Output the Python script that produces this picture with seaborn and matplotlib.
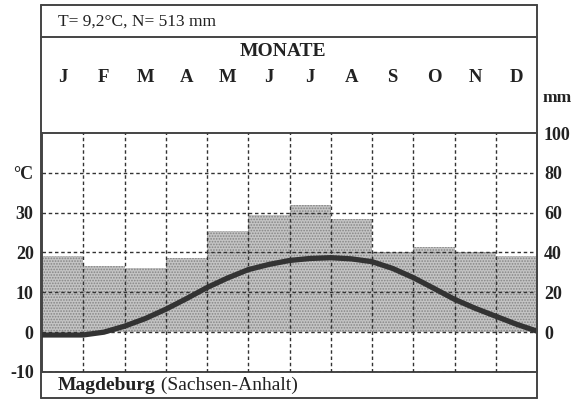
"""Climate diagram Magdeburg (Sachsen-Anhalt)."""

import matplotlib

matplotlib.use("Agg")
import matplotlib.pyplot as plt
from matplotlib.lines import Line2D
from matplotlib.transforms import blended_transform_factory
import numpy as np
import pandas as pd
import seaborn as sns

months = ["J", "F", "M", "A", "M", "J", "J", "A", "S", "O", "N", "D"]
precip_mm = [38, 33, 32, 37, 51, 59, 64, 57, 40, 43, 40, 38]
# temperature curve, read every half month from start of Jan to end of Dec
temp_curve_c = [-0.7, -0.7, -0.7, 0.0, 1.5, 3.4, 5.75, 8.4, 11.2, 13.6, 15.7, 17.0,
                18.0, 18.5, 18.7, 18.4, 17.7, 16.0, 13.7, 11.0, 8.25, 6.0, 4.0, 2.0, 0.25]
left_ticks_c = ["-10", "0", "10", "20", "30", "°C"]
right_ticks_mm = [0, 20, 40, 60, 80, 100]
header = "T= 9,2°C, N= 513 mm"
station = "Magdeburg"
region = " (Sachsen-Anhalt)"

W, H = 576, 401
INK = "#222222"


def fx(px):
    return px / W


def fy(py):
    return 1 - py / H


def main() -> None:
    sns.set_theme(style="white")
    plt.rcParams["font.family"] = ["Liberation Serif", "DejaVu Serif"]
    plt.rcParams["hatch.linewidth"] = 0.8

    fig = plt.figure(figsize=(W / 100, H / 100), dpi=100)
    L, R, TOP, BOT = 42, 537, 133, 372
    ax = fig.add_axes([fx(L), fy(BOT), fx(R) - fx(L), fy(TOP) - fy(BOT)])

    df = pd.DataFrame({"month": range(12), "precip": precip_mm})
    sns.barplot(data=df, x="month", y="precip", width=1.0, color="#c4c4c4",
                saturation=1, linewidth=0, ax=ax, zorder=1)
    for p in ax.patches:
        p.set_edgecolor("#858585")
        p.set_linewidth(0)
        p.set_hatch("......")

    curve = pd.DataFrame({
        "x": np.arange(0, 12.5, 0.5) - 0.5,
        "mm": np.array(temp_curve_c) * 2,
    })
    sns.lineplot(data=curve, x="x", y="mm", color="#333333", linewidth=3.8,
                 ax=ax, zorder=4, solid_capstyle="butt")

    ax.set_xlim(-0.5, 11.5)
    ax.set_ylim(-20, 100)
    ax.set_xticks(np.arange(0.5, 11, 1))
    ax.set_xticklabels([])
    ax.set_yticks([-20, 0, 20, 40, 60, 80])
    ax.set_yticklabels(left_ticks_c)
    ax.set_xlabel("")
    ax.set_ylabel("")
    ax.set_axisbelow(False)
    ax.grid(True, color="#333333", linestyle=(0, (2.5, 2)), linewidth=1.0)
    ax.tick_params(axis="both", length=0, labelsize=13, pad=6, colors=INK)
    for lab in ax.get_yticklabels():
        lab.set_fontweight("bold")
    for s in ax.spines.values():
        s.set_color("#444444")
        s.set_linewidth(1.4)

    ax2 = ax.twinx()
    ax2.set_ylim(-20, 100)
    ax2.set_yticks(right_ticks_mm)
    ax2.set_yticklabels([str(v) for v in right_ticks_mm])
    ax2.tick_params(axis="y", length=0, labelsize=13, pad=5, colors=INK)
    for lab in ax2.get_yticklabels():
        lab.set_fontweight("bold")
    ax2.grid(False)
    for s in ax2.spines.values():
        s.set_visible(False)

    # month letters and header
    tr = blended_transform_factory(ax.transData, fig.transFigure)
    for i, m in enumerate(months):
        ax.text(i, fy(77), m, transform=tr, ha="center", va="center",
                fontsize=13.5, fontweight="bold", color=INK)
    fig.text(fx(283), fy(52), "MONATE", ha="center", va="center", fontsize=14,
             fontweight="bold", color=INK)
    fig.text(fx(557), fy(98), "mm", ha="center", va="center", fontsize=12.5,
             fontweight="bold", color=INK)
    fig.text(fx(58), fy(22), header, ha="left", va="center", fontsize=12.5, color=INK)

    t1 = fig.text(fx(58), fy(385), station, ha="left", va="center", fontsize=14,
                  fontweight="bold", color=INK)
    fig.canvas.draw()
    bb = t1.get_window_extent()
    fig.text(bb.x1 / W, fy(385), region, ha="left", va="center", fontsize=14,
             color=INK)

    # outer frame
    lc = "#444444"
    for xs, ys in [
        ([41, 41], [5, 398]),
        ([537, 537], [5, 398]),
        ([41, 537], [5, 5]),
        ([41, 537], [37, 37]),
        ([41, 537], [398, 398]),
    ]:
        fig.add_artist(Line2D([fx(x) for x in xs], [fy(y) for y in ys],
                              color=lc, linewidth=1.4))

    fig.savefig("out.png", dpi=100)
    plt.close(fig)


if __name__ == "__main__":
    main()
